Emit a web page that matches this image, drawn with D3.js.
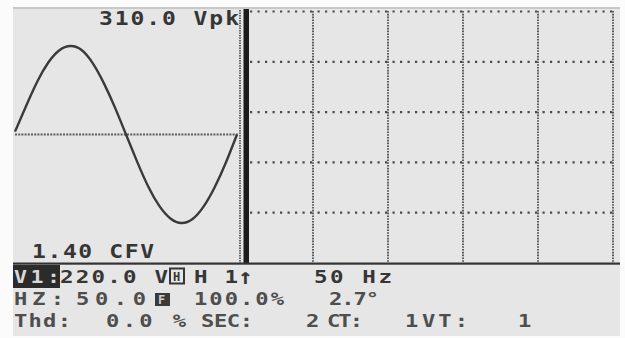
<!DOCTYPE html>
<html>
<head>
<meta charset="utf-8">
<script src="https://cdn.jsdelivr.net/npm/d3@7"></script>
<style>
  body { margin: 0; background: #fbfbfb; }
  text { font-family: 'DejaVu Sans Mono', monospace; font-weight: bold; }
</style>
</head>
<body>
<div id="screen"></div>
<script>
// one cycle of the voltage waveform (ms, volts)
const sampleTimes = [0, 1, 2, 3, 4, 5, 6, 7, 8, 9, 10, 11, 12, 13, 14, 15, 16, 17, 18, 19, 20];
const sampleVolts = [10, 100, 185, 252, 295, 310, 296, 250, 180, 95, 0, -95, -182, -250, -294, -310, -296, -252, -184, -98, 0];

// readouts
const peakVolts = 310.0;
const crestFactor = 1.40;
const rmsVolts = 220.0;
const harmonicNo = 1;
const fundamentalHz = 50;
const lineHz = 50.0;
const harmonicPct = 100.0;
const phaseDeg = 2.7;
const thdPct = 0.0;
const secValue = 2;
const ctRatio = 1;
const vtRatio = 1;

// grid divisions of the harmonic panel
const gridCols = [1, 2, 3, 4, 5];
const gridRows = [0, 1, 2, 3, 4];

const W = 625;
const H = 338;
const ink = '#363636';
const ink2 = '#4e4e4e';

const svg = d3.select('#screen').append('svg')
  .attr('width', W)
  .attr('height', H);

// lcd panel
svg.append('rect')
  .attr('x', 13).attr('y', 7)
  .attr('width', 607).attr('height', 329)
  .attr('fill', '#e6e6e6');
svg.append('rect')
  .attr('x', 13).attr('y', 7)
  .attr('width', 607).attr('height', 2)
  .attr('fill', '#c8c8c8');

// waveform scales
const x = d3.scaleLinear().domain([0, 20]).range([15, 237]);
const y = d3.scaleLinear().domain([-peakVolts, peakVolts]).range([223, 46]);

// zero line
svg.append('line')
  .attr('x1', 15).attr('x2', 238)
  .attr('y1', y(0)).attr('y2', y(0))
  .attr('stroke', '#5a5a5a')
  .attr('stroke-width', 2)
  .attr('stroke-dasharray', '2,1.2');

// left panel border
svg.append('line')
  .attr('x1', 240).attr('x2', 240)
  .attr('y1', 10).attr('y2', 263)
  .attr('stroke', '#666')
  .attr('stroke-width', 2)
  .attr('stroke-dasharray', '1.5,1');

const points = sampleTimes.map((t, i) => ({ t, v: sampleVolts[i] }));
const wave = d3.line()
  .x(d => x(d.t))
  .y(d => y(d.v))
  .curve(d3.curveNatural);

svg.append('path')
  .datum(points)
  .attr('d', wave)
  .attr('fill', 'none')
  .attr('stroke', '#3a3a3a')
  .attr('stroke-width', 2.4);

// harmonic grid
const gx = d3.scaleLinear().domain([0, 5]).range([238, 613]);
const gy = d3.scaleLinear().domain([0, 5]).range([11.5, 263]);

svg.selectAll('.hgrid')
  .data(gridRows)
  .enter().append('line')
  .attr('class', 'hgrid')
  .attr('x1', 250).attr('x2', 614)
  .attr('y1', d => gy(d)).attr('y2', d => gy(d))
  .attr('stroke', '#4a4a4a')
  .attr('stroke-width', 2.2)
  .attr('stroke-dasharray', '2.2,5.3');

svg.selectAll('.vgrid')
  .data(gridCols)
  .enter().append('line')
  .attr('class', 'vgrid')
  .attr('x1', d => gx(d)).attr('x2', d => gx(d))
  .attr('y1', 11).attr('y2', 263)
  .attr('stroke', '#4a4a4a')
  .attr('stroke-width', 1.8)
  .attr('stroke-dasharray', '1.6,1.2');

// thick separator bar
svg.append('rect')
  .attr('x', 243.5).attr('y', 9)
  .attr('width', 5.5).attr('height', 255)
  .attr('fill', '#1c1c1c');

// bottom rule
svg.append('rect')
  .attr('x', 13).attr('y', 262.5)
  .attr('width', 607).attr('height', 2.2)
  .attr('fill', '#333');

// LCD-ish text: glyphs stretched sideways, spread to the measured span
function lcd(str, px, py, fs, len, fill, sx) {
  const k = sx || 1.25;
  const g = svg.append('g')
    .attr('transform', `translate(${px},${py}) scale(${k},1)`);
  const t = g.append('text')
    .attr('font-size', fs)
    .attr('fill', fill || ink)
    .text(str);
  if (len) t.attr('textLength', len / k).attr('lengthAdjust', 'spacing');
  return t;
}

lcd(`${peakVolts.toFixed(1)} Vpk`, 99, 25, 20, 140, ink, 1.15);
lcd(`${crestFactor.toFixed(2)} CFV`, 32, 258, 20, 122, ink, 1.15);

// row 1
svg.append('rect')
  .attr('x', 13).attr('y', 265)
  .attr('width', 47).attr('height', 23)
  .attr('fill', '#2b2b2b');
lcd('V1:', 14, 283, 18, 46, '#d8d8d8', 1.2);
lcd(`${rmsVolts.toFixed(1)} V`, 60, 283, 18, 108);
svg.append('rect')
  .attr('x', 170).attr('y', 268.5)
  .attr('width', 14).attr('height', 15)
  .attr('fill', 'none')
  .attr('stroke', ink)
  .attr('stroke-width', 2);
lcd('H', 173, 281, 12, null, ink, 1);
lcd(`H ${harmonicNo}`, 194, 283, 18, 44);
lcd('\u2191', 238, 284, 22, null, ink, 1.1);
lcd(`${fundamentalHz} Hz`, 314, 283, 18, 78);

// row 2
lcd('HZ:', 14, 305, 17, 50, ink2, 1.3);
lcd(lineHz.toFixed(1), 76, 305, 17, 70, ink2, 1.3);
svg.append('rect')
  .attr('x', 155).attr('y', 293)
  .attr('width', 15).attr('height', 13)
  .attr('fill', '#3a3a3a');
lcd('F', 158, 304, 12, null, '#cfcfcf', 1);
lcd(`${harmonicPct.toFixed(1)}%`, 194, 305, 17, 90, ink2, 1.3);
lcd(`${phaseDeg.toFixed(1)}\u00b0`, 329, 305, 17, 50, ink2, 1.3);

// row 3
lcd('Thd:', 14, 327, 17, 57, ink2, 1.3);
lcd(`${thdPct.toFixed(1)} %`, 106, 327, 17, 80, ink2, 1.3);
lcd('SEC:', 201, 327, 17, 52, ink2, 1.3);
lcd(String(secValue), 306, 327, 17, null, ink2, 1.3);
lcd('CT:', 327, 327, 17, 36, ink2, 1.3);
lcd(String(ctRatio), 405, 327, 17, null, ink2, 1.3);
lcd('VT:', 422, 327, 17, 46, ink2, 1.3);
lcd(String(vtRatio), 518, 327, 17, null, ink2, 1.3);
</script>
</body>
</html>
